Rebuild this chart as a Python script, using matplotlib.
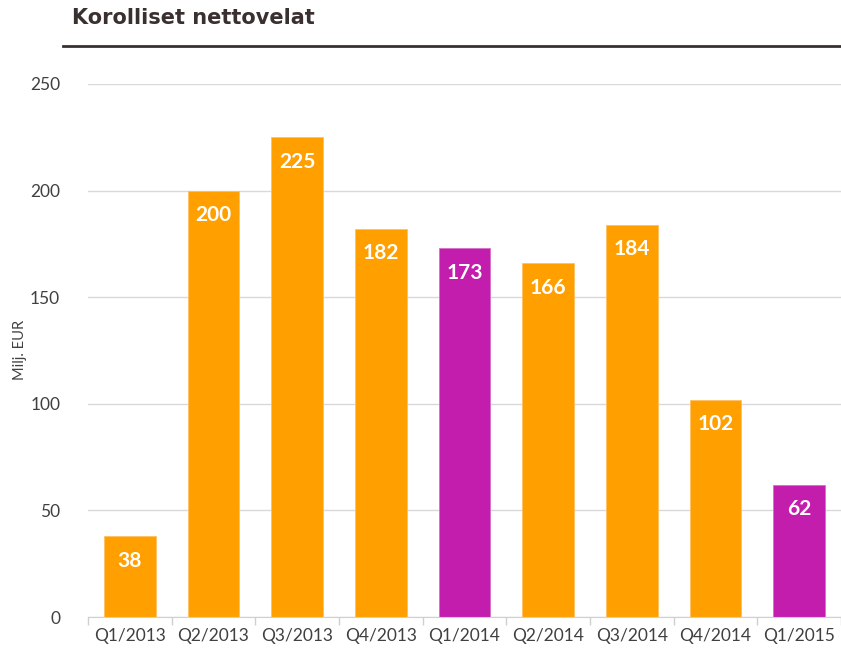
import matplotlib
matplotlib.use("Agg")
import matplotlib.pyplot as plt
from matplotlib.lines import Line2D
import numpy as np

categories = ["Q1/2013", "Q2/2013", "Q3/2013", "Q4/2013", "Q1/2014",
              "Q2/2014", "Q3/2014", "Q4/2014", "Q1/2015"]
values = [38, 200, 225, 182, 173, 166, 184, 102, 62]
highlight = [False, False, False, False, True, False, False, False, True]
yticks = [0, 50, 100, 150, 200, 250]

ORANGE = "#FFA000"
PURPLE = "#C21DAC"
TEXT = "#404040"
TITLE = "#3A3030"

fig = plt.figure(figsize=(8.41, 6.54), dpi=100)
ax = fig.add_axes([88/841, 1-617/654, 1-88/841, (617-84)/654])

x = np.arange(len(categories))
colors = [PURPLE if h else ORANGE for h in highlight]
bars = ax.bar(x, values, width=0.62, color=colors, zorder=3,
              edgecolor=["#D670C8" if h else "#FFC060" for h in highlight], linewidth=0.6)

for xi, v in zip(x, values):
    ax.text(xi, v - 11.5, str(v), ha="center", va="center", color="white",
            fontsize=15, fontweight="bold", family="Lato", zorder=4)

ax.set_xlim(-0.5, len(categories) - 0.5)
ax.set_ylim(0, 250)
ax.set_yticks(yticks)
ax.set_yticklabels([str(t) for t in yticks], fontsize=12.5, family="Lato", color=TEXT)
ax.set_xticks(x)
ax.set_xticklabels(categories, fontsize=12.5, family="Lato", color=TEXT)
ax.tick_params(axis="y", length=0, pad=20)
ax.tick_params(axis="x", which="major", length=0, pad=8)
ax.set_xticks(np.arange(len(categories) + 1) - 0.5, minor=True)
ax.tick_params(axis="x", which="minor", length=6, color="#D0D0D0", width=1)

ax.grid(axis="y", color="#D9D9D9", linewidth=1, zorder=0)
for s in ["top", "right", "left"]:
    ax.spines[s].set_visible(False)
ax.spines["bottom"].set_color("#D0D0D0")
ax.spines["bottom"].set_zorder(5)

fig.text(20/841, 1-350/654, "Milj. EUR", rotation=90, ha="center", va="center",
         fontsize=10.5, family="Lato", color=TEXT)

fig.text(72/841, 1-18/654, "Korolliset nettovelat", ha="left", va="center",
         fontsize=15, fontweight="bold", family="DejaVu Sans", color=TITLE)
fig.add_artist(Line2D([63/841, 1.0], [1-46/654, 1-46/654], color=TITLE, linewidth=2,
                      transform=fig.transFigure))

fig.savefig("out.png", dpi=100)
